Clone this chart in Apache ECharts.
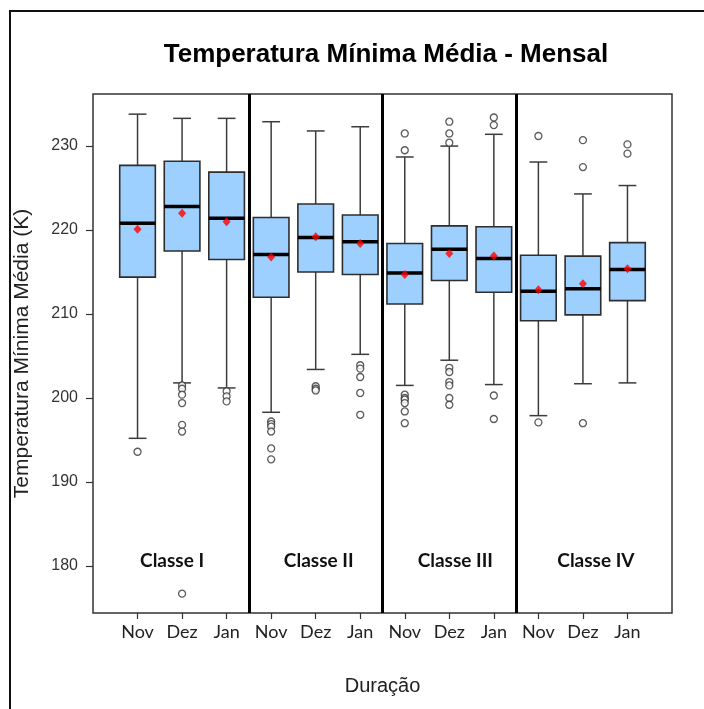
<!DOCTYPE html>
<html>
<head>
<meta charset="utf-8">
<script src="https://cdn.jsdelivr.net/npm/echarts@6/dist/echarts.min.js"></script>
<style>
  html, body { margin: 0; padding: 0; background: #fff; }
  #chart { width: 704px; height: 709px; }
</style>
</head>
<body>
<div id="chart"></div>
<script>
// Monthly minimum temperature (K) per duration class, Nov/Dez/Jan
const months = ['Nov', 'Dez', 'Jan'];
const classes = ['Classe I', 'Classe II', 'Classe III', 'Classe IV'];
const yTicks = [180, 190, 200, 210, 220, 230];
const separators = [3.5, 6.5, 9.5];

const whiskerLow  = [195.2, 201.8, 201.2, 198.3, 203.4, 205.2, 201.5, 204.5, 201.6, 197.9, 201.7, 201.8];
const q1          = [214.4, 217.5, 216.5, 212.0, 215.0, 214.7, 211.2, 214.0, 212.6, 209.2, 209.9, 211.6];
const medians     = [220.8, 222.8, 221.4, 217.1, 219.1, 218.6, 214.9, 217.7, 216.6, 212.7, 213.0, 215.3];
const q3          = [227.7, 228.2, 226.9, 221.5, 223.1, 221.8, 218.4, 220.5, 220.4, 217.0, 216.9, 218.5];
const whiskerHigh = [233.8, 233.3, 233.3, 232.9, 231.8, 232.3, 228.7, 230.0, 231.4, 228.1, 224.3, 225.3];
const means       = [220.1, 222.0, 221.0, 216.8, 219.2, 218.4, 214.7, 217.2, 216.9, 212.9, 213.6, 215.4];
const outliers = [
  [193.6],
  [201.5, 201.1, 200.4, 199.4, 196.8, 196.0, 176.7],
  [200.8, 200.2, 199.6],
  [197.2, 196.9, 196.6, 196.0, 194.0, 192.7],
  [201.4, 201.1, 200.9],
  [203.9, 203.5, 202.5, 200.6, 198.0],
  [231.5, 229.5, 200.4, 200.0, 199.8, 199.4, 198.4, 197.0],
  [232.9, 231.5, 230.4, 203.6, 203.1, 201.9, 201.5, 200.0, 199.2],
  [233.4, 232.5, 200.3, 197.5],
  [231.2, 197.1],
  [230.7, 227.5, 197.0],
  [230.2, 229.1]
];

// Box positions 1..12 along the x axis
const positions = medians.map((_, i) => i + 1);
const boxData = positions.map((x, i) => [x, whiskerLow[i], q1[i], medians[i], q3[i], whiskerHigh[i]]);
const meanData = positions.map((x, i) => [x, means[i]]);
const outlierData = [];
outliers.forEach((list, i) => list.forEach(v => outlierData.push([positions[i], v])));
const classCenters = classes.map((_, k) => 3 * k + 2);
const classLabelDx = [-10, 3, 6, 13];
const classLabelY = 180.6;

const chart = echarts.init(document.getElementById('chart'), null, { renderer: 'canvas' });

function renderBox(params, api) {
  const x = api.value(0);
  const pLow = api.coord([x, api.value(1)]);
  const pQ1 = api.coord([x, api.value(2)]);
  const pMed = api.coord([x, api.value(3)]);
  const pQ3 = api.coord([x, api.value(4)]);
  const pHigh = api.coord([x, api.value(5)]);
  const halfW = api.size([0.8, 0])[0] / 2;
  const capHalf = halfW / 2;
  const cx = pMed[0];
  const wStyle = { stroke: '#3c3c3c', lineWidth: 1.5 };
  return {
    type: 'group',
    children: [
      { type: 'line', shape: { x1: cx, y1: pQ3[1], x2: cx, y2: pHigh[1] }, style: wStyle },
      { type: 'line', shape: { x1: cx, y1: pQ1[1], x2: cx, y2: pLow[1] }, style: wStyle },
      { type: 'line', shape: { x1: cx - capHalf, y1: pHigh[1], x2: cx + capHalf, y2: pHigh[1] }, style: wStyle },
      { type: 'line', shape: { x1: cx - capHalf, y1: pLow[1], x2: cx + capHalf, y2: pLow[1] }, style: wStyle },
      { type: 'rect', shape: { x: cx - halfW, y: pQ3[1], width: 2 * halfW, height: pQ1[1] - pQ3[1] },
        style: { fill: '#9dcfff', stroke: '#2e2e2e', lineWidth: 1.6 } },
      { type: 'line', shape: { x1: cx - halfW, y1: pMed[1], x2: cx + halfW, y2: pMed[1] },
        style: { stroke: '#000', lineWidth: 3.5 } }
    ]
  };
}

function renderClassLabel(params, api) {
  const p = api.coord([api.value(0), classLabelY]);
  return {
    type: 'text',
    x: p[0] + classLabelDx[params.dataIndex],
    y: p[1],
    style: {
      text: classes[params.dataIndex],
      textAlign: 'center',
      textVerticalAlign: 'middle',
      font: 'bold 19px Lato, "Open Sans", sans-serif',
      fill: '#111'
    }
  };
}

const option = {
  animation: false,
  backgroundColor: '#fff',
  graphic: [
    { type: 'rect', shape: { x: 10, y: 11, width: 760, height: 760 },
      style: { fill: 'none', stroke: '#111', lineWidth: 2 }, z: 100 },
    { type: 'text', x: 386, y: 55,
      style: { text: 'Temperatura Mínima Média - Mensal', textAlign: 'center', textVerticalAlign: 'middle',
               font: 'bold 26px "Liberation Sans", Arial, sans-serif', fill: '#000' } }
  ],
  grid: { left: 93, right: 32, top: 94, bottom: 96, show: true, borderColor: '#333', borderWidth: 1.5, backgroundColor: 'transparent' },
  xAxis: {
    type: 'value', min: 0, max: 13,
    name: 'Duração', nameLocation: 'middle', nameGap: 63,
    nameTextStyle: { fontFamily: '"Liberation Sans", Arial, sans-serif', fontSize: 20, color: '#222' },
    axisLine: { show: false },
    splitLine: { show: false },
    axisTick: { show: true, customValues: positions, length: 6, lineStyle: { color: '#333', width: 1.2 } },
    axisLabel: { customValues: positions, formatter: v => months[(v - 1) % 3], margin: 10,
                 fontFamily: 'Lato, "Open Sans", sans-serif', fontSize: 18, color: '#222' }
  },
  yAxis: {
    type: 'value', min: 174.4, max: 236.2,
    name: 'Temperatura Mínima Média (K)', nameLocation: 'middle', nameGap: 60,
    nameTextStyle: { fontFamily: '"Liberation Sans", Arial, sans-serif', fontSize: 21, color: '#222' },
    axisLine: { show: false },
    splitLine: { show: false },
    axisTick: { show: true, customValues: yTicks, length: 7, lineStyle: { color: '#333', width: 1.2 } },
    axisLabel: { customValues: yTicks, margin: 15,
                 fontFamily: '"Liberation Sans", Arial, sans-serif', fontSize: 16, color: '#333' }
  },
  series: [
    {
      type: 'custom',
      name: 'box',
      data: boxData,
      renderItem: renderBox,
      encode: { x: 0, y: [1, 2, 3, 4, 5] },
      z: 2,
      markLine: {
        silent: true,
        symbol: ['none', 'none'],
        label: { show: false },
        lineStyle: { color: '#000', width: 3, type: 'solid' },
        data: separators.map(s => ({ xAxis: s }))
      }
    },
    {
      type: 'scatter',
      name: 'outliers',
      data: outlierData,
      symbol: 'circle',
      symbolSize: 7,
      itemStyle: { color: '#fff', borderColor: '#333', borderWidth: 1.3 },
      z: 3
    },
    {
      type: 'scatter',
      name: 'mean',
      data: meanData,
      symbol: 'diamond',
      symbolSize: [8, 9],
      itemStyle: { color: '#ff0000' },
      z: 4
    },
    {
      type: 'custom',
      name: 'classes',
      data: classCenters.map(c => [c]),
      renderItem: renderClassLabel,
      z: 5
    }
  ]
};

chart.setOption(option);
</script>
</body>
</html>
